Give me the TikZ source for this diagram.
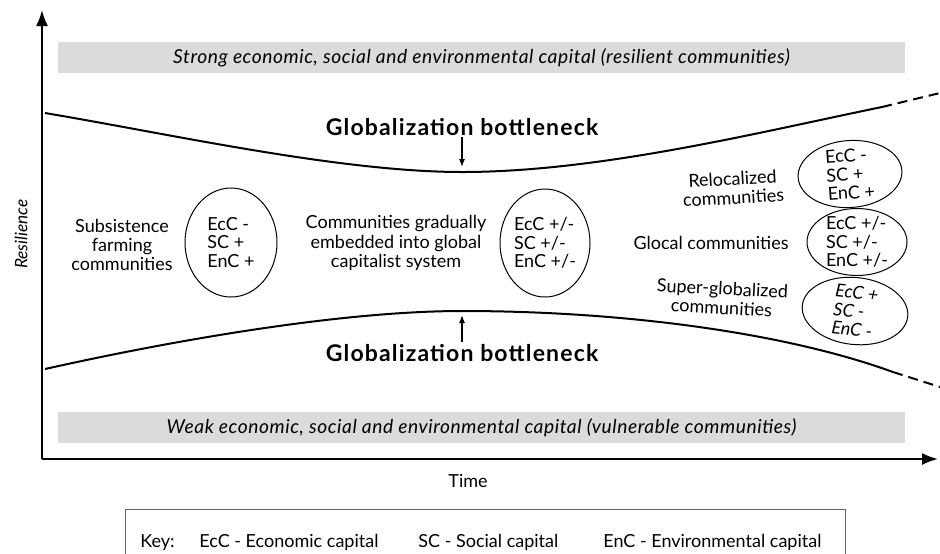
\documentclass[tikz,border=0pt]{standalone}
\usepackage{fontspec}
\setmainfont{Lato}
\usetikzlibrary{arrows.meta,shapes.geometric}

\tikzset{
  band/.style={fill=gray!28, minimum width=423.5pt, minimum height=15.5pt,
    inner sep=0pt, font=\fontsize{9.6}{11}\selectfont\itshape\addfontfeatures{LetterSpace=3}},
  commtext/.style={align=center, inner sep=0pt, font=\fontsize{9}{9.6}\selectfont},
  capital/.style={draw, ellipse, line width=0.5pt, align=left, inner sep=0pt,
    font=\fontsize{9}{9.3}\selectfont},
  neck/.style={font=\fontsize{11.5}{13}\selectfont\bfseries\addfontfeatures{LetterSpace=5}, inner sep=0pt},
  keytext/.style={anchor=base west, inner sep=0pt, font=\fontsize{9}{10}\selectfont},
  curve/.style={line width=1pt},
  open/.style={line width=1pt, dash pattern=on 5pt off 3pt},
}

\begin{document}
\begin{tikzpicture}[x=0.5pt, y=-0.5pt]
  \useasboundingbox (0,0) rectangle (940,553);

  % --- Axes ---
  \coordinate (O) at (42,459);
  \coordinate (ytip) at (42,10);
  \coordinate (xtip) at (938,459);
  \draw[-{Latex[length=8pt,width=6pt]}, line width=1pt] (O) -- (ytip);
  \draw[-{Latex[length=8pt,width=6pt]}, line width=1pt] (O) -- (xtip);
  \node[rotate=90, font=\fontsize{8.6}{10}\selectfont\itshape] (resil) at (21,234) {Resilience};
  \node[font=\fontsize{9}{10}\selectfont] (time) at (468,481) {Time};

  % --- Capital bands ---
  \node[band] (strong) at (481.5,57.5) {Strong economic, social and environmental capital (resilient communities)};
  \node[band] (weak) at (481.5,427.5) {Weak economic, social and environmental capital (vulnerable communities)};

  % --- Bottleneck curves ---
  \coordinate (upL) at (45,113);
  \coordinate (upM) at (462,172);
  \coordinate (upR) at (882,107);
  \coordinate (upE) at (940,93);
  \coordinate (loL) at (45,369);
  \coordinate (loM) at (462,311);
  \coordinate (loR) at (893,372);
  \coordinate (loE) at (940,387);
  \draw[curve] (upL) .. controls (170,134) and (340,172) .. (upM)
    .. controls (600,172) and (760,132) .. (upR);
  \draw[open] (upR) -- (upE);
  \draw[curve] (loL) .. controls (170,341) and (340,311) .. (loM)
    .. controls (620,311) and (783,332) .. (loR);
  \draw[open] (loR) -- (loE);
  \node[font=\fontsize{10}{12}\selectfont] (qtop) at (944,108) {?};
  \node[font=\fontsize{10}{12}\selectfont] (qbot) at (944,358) {?};

  % --- Bottleneck labels ---
  \node[neck] (neckTop) at (462,127) {Globalization bottleneck};
  \node[neck] (neckBot) at (462,353) {Globalization bottleneck};
  \coordinate (tipTop) at (462,167);
  \coordinate (tipBot) at (462,315);
  \draw[-{Latex[length=4pt,width=3pt]}, line width=0.6pt] (462,137) -- (tipTop);
  \draw[-{Latex[length=4pt,width=3pt]}, line width=0.6pt] (462,342) -- (tipBot);

  % --- Communities ---
  \node[commtext] (subs) at (122,245) {Subsistence\\farming\\communities};
  \node[capital, minimum width=46pt, minimum height=54.5pt] (subsCap) at (231,242.5) {EcC -\\SC +\\EnC +};

  \node[commtext] (embed) at (396,243) {Communities gradually\\embedded into global\\capitalist system};
  \node[capital, minimum width=45pt, minimum height=54pt] (embedCap) at (545,243) {EcC +/-\\SC +/-\\EnC +/-};

  \node[commtext, rotate=3] (reloc) at (733,188) {Relocalized\\communities};
  \node[capital, inner sep=-4pt, minimum width=52pt, minimum height=33.5pt, rotate=4] (relocCap) at (850,174) {EcC -\\SC +\\EnC +};

  \node[commtext] (glocal) at (711,243) {Glocal communities};
  \node[capital, inner sep=-4pt, minimum width=50pt, minimum height=33.5pt] (glocalCap) at (857,242) {EcC +/-\\SC +/-\\EnC +/-};

  \node[commtext, rotate=-3] (superg) at (722,298) {Super-globalized\\communities};
  \node[capital, inner sep=-4pt, minimum width=53pt, minimum height=33.5pt, rotate=-6,
    font=\fontsize{9}{9.3}\selectfont\itshape] (supergCap) at (855,311) {EcC +\\SC -\\EnC -};

  % --- Key ---
  \node[draw=gray!80!black, line width=0.5pt, minimum width=360pt, minimum height=25pt,
    inner sep=0pt] (keybox) at (485,534.5) {};
  \node[keytext] (key) at (140,547) {Key:};
  \node[keytext] (keyEcC) at (199,547) {EcC - Economic capital};
  \node[keytext] (keySC) at (418,547) {SC - Social capital};
  \node[keytext] (keyEnC) at (603,547) {EnC - Environmental capital};

\end{tikzpicture}
\end{document}
